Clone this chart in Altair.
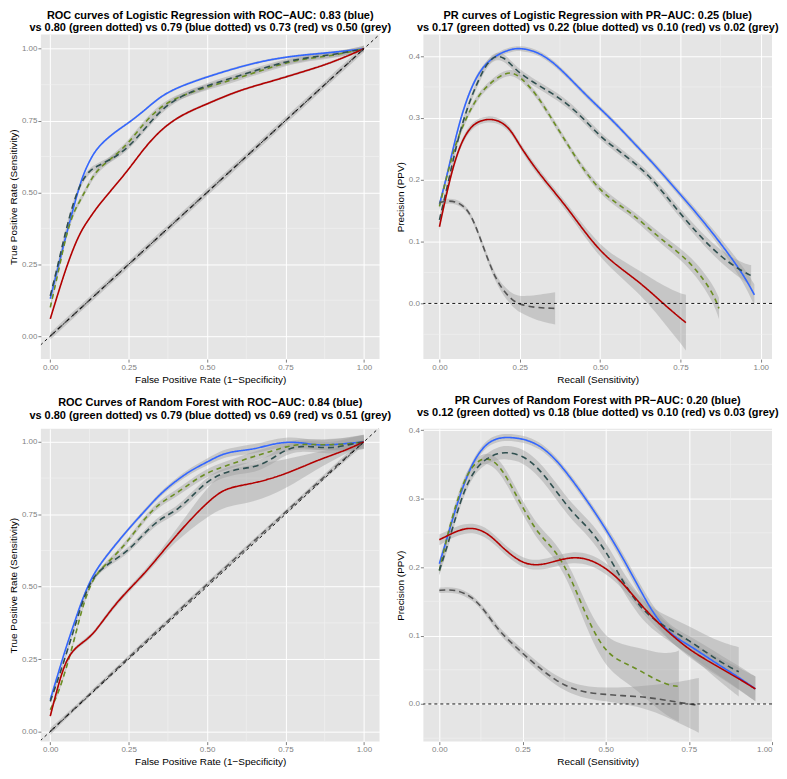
import altair as alt
import pandas as pd

FONT = "Liberation Sans"
NAMES = ["blue", "green dotted", "blue dotted", "red", "grey"]
COLORS = ["#3366FF", "#6B8E23", "#2F4F4F", "#B30000", "#555555"]
DASHES = [[1, 0], [5, 4], [6, 4], [1, 0], [6, 4]]

# ---------------- Top-left: ROC, Logistic Regression ----------------
TL_X = [0, 0.025, 0.05, 0.075, 0.1, 0.125, 0.15, 0.2, 0.25, 0.3, 0.35, 0.4, 0.45, 0.5, 0.6, 0.7, 0.8, 0.9, 1.0]
TL_BLUE = [0.13, 0.24, 0.35, 0.45, 0.55, 0.61, 0.657, 0.706, 0.742, 0.785, 0.833, 0.862, 0.883, 0.902, 0.936, 0.963, 0.978, 0.987, 1.0]
TL_GREEN = [0.10, 0.22, 0.35, 0.435, 0.48, 0.535, 0.58, 0.622, 0.672, 0.743, 0.797, 0.828, 0.848, 0.867, 0.898, 0.935, 0.965, 0.975, 1.0]
TL_DARK = [0.14, 0.25, 0.37, 0.47, 0.54, 0.576, 0.592, 0.618, 0.657, 0.72, 0.783, 0.825, 0.85, 0.872, 0.905, 0.94, 0.968, 0.978, 1.0]
TL_RED = [0.06, 0.15, 0.235, 0.31, 0.37, 0.41, 0.45, 0.515, 0.58, 0.655, 0.715, 0.757, 0.785, 0.808, 0.855, 0.885, 0.918, 0.952, 1.0]
TL_GREY = [0, 0.025, 0.05, 0.075, 0.1, 0.125, 0.15, 0.2, 0.25, 0.3, 0.35, 0.4, 0.45, 0.5, 0.6, 0.7, 0.8, 0.9, 1.0]
TL_SE = {"blue": 0.004, "green dotted": 0.01, "blue dotted": 0.01, "red": 0.004, "grey": 0.012}

# ---------------- Top-right: PR, Logistic Regression ----------------
TR_X = [0, 0.025, 0.05, 0.075, 0.1, 0.125, 0.15, 0.175, 0.2, 0.225, 0.25, 0.3, 0.35, 0.4, 0.45, 0.5, 0.55, 0.6, 0.65, 0.7, 0.75, 0.8, 0.85, 0.9, 0.95, 0.98]
TR_BLUE = [0.16, 0.21, 0.268, 0.315, 0.35, 0.375, 0.39, 0.40, 0.407, 0.411, 0.413, 0.408, 0.392, 0.367, 0.34, 0.315, 0.29, 0.262, 0.235, 0.206, 0.176, 0.146, 0.114, 0.08, 0.043, 0.014]
TR_BLUE_SE = [0.006, 0.005, 0.004, 0.004, 0.004, 0.004, 0.004, 0.004, 0.004, 0.004, 0.004, 0.004, 0.004, 0.004, 0.004, 0.004, 0.004, 0.004, 0.004, 0.005, 0.005, 0.006, 0.007, 0.009, 0.013, 0.017]
TR_DARK_X = [0, 0.025, 0.05, 0.075, 0.1, 0.125, 0.15, 0.175, 0.2, 0.225, 0.25, 0.3, 0.35, 0.4, 0.45, 0.5, 0.55, 0.6, 0.65, 0.7, 0.75, 0.8, 0.85, 0.9, 0.95, 0.97]
TR_DARK = [0.135, 0.19, 0.25, 0.298, 0.335, 0.365, 0.39, 0.401, 0.398, 0.385, 0.372, 0.355, 0.34, 0.322, 0.298, 0.27, 0.25, 0.23, 0.208, 0.177, 0.145, 0.115, 0.088, 0.066, 0.05, 0.045]
TR_DARK_SE = [0.007, 0.006, 0.006, 0.006, 0.006, 0.006, 0.006, 0.006, 0.006, 0.006, 0.006, 0.006, 0.006, 0.006, 0.006, 0.006, 0.006, 0.006, 0.006, 0.007, 0.007, 0.008, 0.009, 0.011, 0.014, 0.017]
TR_GREEN_X = [0, 0.025, 0.05, 0.075, 0.1, 0.125, 0.15, 0.175, 0.2, 0.225, 0.25, 0.3, 0.35, 0.4, 0.45, 0.5, 0.55, 0.6, 0.65, 0.7, 0.75, 0.8, 0.85, 0.87]
TR_GREEN = [0.157, 0.21, 0.258, 0.29, 0.317, 0.338, 0.352, 0.363, 0.371, 0.374, 0.367, 0.34, 0.298, 0.256, 0.215, 0.183, 0.162, 0.145, 0.122, 0.10, 0.08, 0.055, 0.018, -0.008]
TR_GREEN_SE = [0.007, 0.006, 0.005, 0.005, 0.005, 0.005, 0.005, 0.005, 0.005, 0.005, 0.005, 0.005, 0.005, 0.005, 0.005, 0.006, 0.006, 0.006, 0.007, 0.008, 0.009, 0.011, 0.014, 0.017]
TR_RED_X = [0, 0.025, 0.05, 0.075, 0.1, 0.125, 0.15, 0.175, 0.2, 0.225, 0.25, 0.3, 0.35, 0.4, 0.45, 0.5, 0.55, 0.6, 0.65, 0.7, 0.75, 0.767]
TR_RED = [0.124, 0.185, 0.235, 0.268, 0.287, 0.295, 0.298, 0.297, 0.291, 0.278, 0.255, 0.217, 0.185, 0.153, 0.117, 0.085, 0.062, 0.043, 0.022, -0.002, -0.024, -0.031]
TR_RED_SE = [0.006, 0.005, 0.005, 0.005, 0.005, 0.005, 0.005, 0.005, 0.005, 0.005, 0.005, 0.006, 0.006, 0.007, 0.008, 0.01, 0.013, 0.017, 0.022, 0.03, 0.04, 0.045]
TR_GREY_X = [0, 0.025, 0.05, 0.075, 0.1, 0.125, 0.15, 0.175, 0.2, 0.225, 0.25, 0.3, 0.36]
TR_GREY = [0.163, 0.166, 0.165, 0.158, 0.142, 0.108, 0.072, 0.04, 0.02, 0.006, -0.002, -0.007, -0.008]
TR_GREY_SE = [0.004, 0.004, 0.004, 0.004, 0.004, 0.005, 0.005, 0.006, 0.008, 0.01, 0.013, 0.02, 0.026]

# ---------------- Bottom-left: ROC, Random Forest ----------------
BL_X = [0, 0.025, 0.05, 0.075, 0.1, 0.125, 0.15, 0.2, 0.25, 0.3, 0.35, 0.4, 0.45, 0.5, 0.55, 0.6, 0.65, 0.7, 0.75, 0.8, 0.85, 0.9, 0.95, 1.0]
BL_BLUE = [0.11, 0.2, 0.29, 0.37, 0.45, 0.515, 0.565, 0.635, 0.70, 0.76, 0.82, 0.865, 0.903, 0.93, 0.96, 0.969, 0.975, 0.99, 1.0, 0.998, 0.988, 0.99, 0.995, 1.0]
BL_GREEN = [0.075, 0.13, 0.215, 0.31, 0.42, 0.50, 0.55, 0.60, 0.66, 0.735, 0.79, 0.82, 0.86, 0.894, 0.914, 0.932, 0.95, 0.966, 0.983, 0.993, 0.99, 0.99, 0.993, 1.0]
BL_DARK = [0.104, 0.18, 0.265, 0.35, 0.44, 0.51, 0.55, 0.59, 0.625, 0.685, 0.735, 0.76, 0.81, 0.865, 0.892, 0.907, 0.912, 0.935, 0.975, 0.986, 0.982, 0.978, 0.99, 1.0]
BL_RED = [0.053, 0.16, 0.245, 0.283, 0.305, 0.325, 0.355, 0.43, 0.49, 0.545, 0.61, 0.675, 0.735, 0.79, 0.835, 0.848, 0.858, 0.872, 0.89, 0.912, 0.935, 0.955, 0.975, 1.0]
BL_GREY = [0, 0.026, 0.051, 0.077, 0.102, 0.128, 0.153, 0.204, 0.255, 0.306, 0.356, 0.407, 0.458, 0.508, 0.558, 0.608, 0.658, 0.708, 0.757, 0.807, 0.856, 0.905, 0.953, 1.0]
BL_BLUE_SE = [0.008, 0.006, 0.006, 0.006, 0.006, 0.006, 0.006, 0.006, 0.006, 0.007, 0.008, 0.009, 0.01, 0.012, 0.014, 0.015, 0.016, 0.016, 0.016, 0.016, 0.017, 0.018, 0.02, 0.022]
BL_GREEN_SE = [0.008, 0.007, 0.007, 0.007, 0.007, 0.007, 0.008, 0.008, 0.009, 0.01, 0.011, 0.012, 0.013, 0.014, 0.015, 0.016, 0.016, 0.016, 0.016, 0.017, 0.018, 0.02, 0.022, 0.025]
BL_DARK_SE = [0.008, 0.007, 0.007, 0.007, 0.007, 0.007, 0.008, 0.009, 0.01, 0.011, 0.012, 0.013, 0.014, 0.015, 0.016, 0.017, 0.018, 0.018, 0.018, 0.018, 0.019, 0.02, 0.022, 0.025]
BL_RED_SE = [0.008, 0.007, 0.007, 0.007, 0.007, 0.007, 0.007, 0.008, 0.009, 0.01, 0.012, 0.02, 0.035, 0.05, 0.062, 0.065, 0.063, 0.058, 0.05, 0.04, 0.03, 0.02, 0.012, 0.008]
BL_GREY_SE = [0.012, 0.01, 0.009, 0.008, 0.008, 0.008, 0.008, 0.008, 0.008, 0.008, 0.008, 0.008, 0.008, 0.008, 0.008, 0.008, 0.008, 0.008, 0.008, 0.008, 0.009, 0.01, 0.011, 0.012]

# ---------------- Bottom-right: PR, Random Forest ----------------
BR_X = [0, 0.025, 0.05, 0.075, 0.1, 0.125, 0.15, 0.175, 0.2, 0.25, 0.3, 0.35, 0.4, 0.45, 0.5, 0.55, 0.6, 0.65, 0.7, 0.75, 0.8, 0.85, 0.9, 0.95]
BR_BLUE = [0.205, 0.245, 0.287, 0.323, 0.352, 0.371, 0.383, 0.388, 0.39, 0.388, 0.379, 0.358, 0.327, 0.293, 0.256, 0.215, 0.17, 0.126, 0.1, 0.086, 0.07, 0.054, 0.039, 0.022]
BR_BLUE_SE = [0.006, 0.005, 0.005, 0.005, 0.005, 0.005, 0.005, 0.005, 0.005, 0.005, 0.005, 0.005, 0.005, 0.005, 0.006, 0.007, 0.008, 0.01, 0.012, 0.014, 0.015, 0.016, 0.017, 0.018]
BR_RED = [0.24, 0.246, 0.252, 0.256, 0.257, 0.254, 0.247, 0.236, 0.224, 0.205, 0.202, 0.209, 0.215, 0.212, 0.199, 0.178, 0.148, 0.122, 0.1, 0.08, 0.065, 0.051, 0.037, 0.022]
BR_RED_SE = [0.008, 0.007, 0.007, 0.007, 0.007, 0.007, 0.007, 0.007, 0.007, 0.007, 0.007, 0.008, 0.008, 0.008, 0.008, 0.008, 0.009, 0.01, 0.011, 0.012, 0.013, 0.014, 0.016, 0.018]
BR_DARK_X = [0, 0.025, 0.05, 0.075, 0.1, 0.125, 0.15, 0.175, 0.2, 0.25, 0.3, 0.35, 0.4, 0.45, 0.5, 0.55, 0.6, 0.65, 0.7, 0.75, 0.8, 0.85, 0.9]
BR_DARK = [0.195, 0.232, 0.275, 0.312, 0.337, 0.352, 0.361, 0.366, 0.368, 0.364, 0.344, 0.312, 0.279, 0.257, 0.224, 0.18, 0.143, 0.121, 0.107, 0.093, 0.076, 0.06, 0.047]
BR_DARK_SE = [0.007, 0.006, 0.006, 0.006, 0.006, 0.007, 0.008, 0.009, 0.01, 0.01, 0.011, 0.012, 0.012, 0.012, 0.013, 0.014, 0.015, 0.016, 0.018, 0.021, 0.025, 0.03, 0.036]
BR_GREEN_X = [0, 0.025, 0.05, 0.075, 0.1, 0.125, 0.15, 0.175, 0.2, 0.25, 0.3, 0.35, 0.4, 0.45, 0.5, 0.55, 0.6, 0.65, 0.7, 0.72]
BR_GREEN = [0.195, 0.248, 0.292, 0.327, 0.348, 0.358, 0.359, 0.35, 0.334, 0.287, 0.246, 0.225, 0.18, 0.118, 0.075, 0.061, 0.05, 0.035, 0.026, 0.026]
BR_GREEN_SE = [0.007, 0.006, 0.006, 0.006, 0.006, 0.007, 0.008, 0.009, 0.01, 0.01, 0.011, 0.012, 0.014, 0.017, 0.021, 0.026, 0.032, 0.04, 0.048, 0.052]
BR_GREY_X = [0, 0.025, 0.05, 0.075, 0.1, 0.125, 0.15, 0.175, 0.2, 0.25, 0.3, 0.35, 0.4, 0.45, 0.5, 0.55, 0.6, 0.65, 0.7, 0.75, 0.78]
BR_GREY = [0.166, 0.167, 0.166, 0.162, 0.155, 0.143, 0.127, 0.11, 0.097, 0.074, 0.053, 0.034, 0.022, 0.016, 0.014, 0.012, 0.011, 0.008, 0.004, 0.0, -0.002]
BR_GREY_SE = [0.004, 0.004, 0.004, 0.004, 0.004, 0.004, 0.005, 0.005, 0.005, 0.006, 0.006, 0.007, 0.008, 0.009, 0.01, 0.012, 0.015, 0.02, 0.027, 0.035, 0.04]

# ---------------- axis ticks / labels ----------------
ROC_TICKS = [0, 0.25, 0.5, 0.75, 1.0]
ROC_MINOR = [0.125, 0.375, 0.625, 0.875]
PR_YTICKS = [0, 0.1, 0.2, 0.3, 0.4]
PR_YMINOR = [-0.05, 0.05, 0.15, 0.25, 0.35]

TITLES = {
    "tl": ["ROC curves of Logistic Regression with ROC\u2212AUC: 0.83 (blue)",
           "vs 0.80 (green dotted) vs 0.79 (blue dotted) vs 0.73 (red) vs 0.50 (grey)"],
    "tr": ["PR curves of Logistic Regression with PR\u2212AUC: 0.25 (blue)",
           "vs 0.17 (green dotted) vs 0.22 (blue dotted) vs 0.10 (red) vs 0.02 (grey)"],
    "bl": ["ROC Curves of Random Forest with ROC\u2212AUC: 0.84 (blue)",
           "vs 0.80 (green dotted) vs 0.79 (blue dotted) vs 0.69 (red) vs 0.51 (grey)"],
    "br": ["PR Curves of Random Forest with PR\u2212AUC: 0.20 (blue)",
           "vs 0.12 (green dotted) vs 0.18 (blue dotted) vs 0.10 (red) vs 0.03 (grey)"],
}
ROC_XT = "False Positive Rate (1\u2212Specificity)"
ROC_YT = "True Positive Rate (Sensitivity)"
PR_XT = "Recall (Sensitivity)"
PR_YT = "Precision (PPV)"


def panel_df(curves):
    rows = []
    for name, xs, ys, ses in curves:
        if not isinstance(ses, list):
            ses = [ses] * len(xs)
        for x, y, s in zip(xs, ys, ses):
            rows.append({"curve": name, "x": x, "y": y, "lo": y - s, "hi": y + s})
    return pd.DataFrame(rows)


def make_panel(df, title, xdom, ydom, xticks, yticks, xfmt, yfmt, xminor, yminor,
               xtitle, ytitle, roc, w, h, toff):
    def xenc(f):
        return alt.X(f"{f}:Q", scale=alt.Scale(domain=xdom, nice=False, zero=False),
                     axis=alt.Axis(values=xticks, format=xfmt, title=xtitle))

    def yenc(f):
        return alt.Y(f"{f}:Q", scale=alt.Scale(domain=ydom, nice=False, zero=False),
                     axis=alt.Axis(values=yticks, format=yfmt, title=ytitle))

    minx = alt.Chart(pd.DataFrame({"mx": xminor})).mark_rule(
        color="#F2F2F2", strokeWidth=0.6).encode(x=xenc("mx"))
    miny = alt.Chart(pd.DataFrame({"my": yminor})).mark_rule(
        color="#F2F2F2", strokeWidth=0.6).encode(y=yenc("my"))
    bands = alt.Chart(df).mark_area(
        clip=True, color="#999999", opacity=0.4, interpolate="basis"
    ).encode(x=xenc("x"), y=yenc("lo"), y2=alt.Y2("hi:Q"), detail="curve:N")
    if roc:
        ref = alt.Chart(pd.DataFrame({"rx": [-0.2, 1.2], "ry": [-0.2, 1.2]})).mark_line(
            clip=True, color="black", strokeDash=[3, 3], strokeWidth=0.9
        ).encode(x=xenc("rx"), y=yenc("ry"))
    else:
        ref = alt.Chart(pd.DataFrame({"ry": [0.0]})).mark_rule(
            color="black", strokeDash=[3, 3], strokeWidth=0.9
        ).encode(y=yenc("ry"))
    lines = alt.Chart(df).mark_line(
        clip=True, strokeWidth=1.6, interpolate="basis"
    ).encode(
        x=xenc("x"), y=yenc("y"),
        color=alt.Color("curve:N", scale=alt.Scale(domain=NAMES, range=COLORS), legend=None),
        strokeDash=alt.StrokeDash("curve:N", scale=alt.Scale(domain=NAMES, range=DASHES), legend=None),
    )
    return alt.layer(minx, miny, bands, lines, ref).properties(
        width=w, height=h,
        title=alt.TitleParams(text=title, font=FONT, fontSize=11, fontWeight="bold",
                              anchor="middle", frame="group", offset=toff,
                              lineHeight=12.5, color="black"),
    )


tl_df = panel_df([
    ("blue", TL_X, TL_BLUE, TL_SE["blue"]),
    ("green dotted", TL_X, TL_GREEN, TL_SE["green dotted"]),
    ("blue dotted", TL_X, TL_DARK, TL_SE["blue dotted"]),
    ("red", TL_X, TL_RED, TL_SE["red"]),
    ("grey", TL_X, TL_GREY, TL_SE["grey"]),
])
tr_df = panel_df([
    ("blue", TR_X, TR_BLUE, TR_BLUE_SE),
    ("green dotted", TR_GREEN_X, TR_GREEN, TR_GREEN_SE),
    ("blue dotted", TR_DARK_X, TR_DARK, TR_DARK_SE),
    ("red", TR_RED_X, TR_RED, TR_RED_SE),
    ("grey", TR_GREY_X, TR_GREY, TR_GREY_SE),
])
bl_df = panel_df([
    ("blue", BL_X, BL_BLUE, BL_BLUE_SE),
    ("green dotted", BL_X, BL_GREEN, BL_GREEN_SE),
    ("blue dotted", BL_X, BL_DARK, BL_DARK_SE),
    ("red", BL_X, BL_RED, BL_RED_SE),
    ("grey", BL_X, BL_GREY, BL_GREY_SE),
])
br_df = panel_df([
    ("blue", BR_X, BR_BLUE, BR_BLUE_SE),
    ("green dotted", BR_GREEN_X, BR_GREEN, BR_GREEN_SE),
    ("blue dotted", BR_DARK_X, BR_DARK, BR_DARK_SE),
    ("red", BR_X, BR_RED, BR_RED_SE),
    ("grey", BR_GREY_X, BR_GREY, BR_GREY_SE),
])

tl = make_panel(tl_df, TITLES["tl"], [-0.03, 1.05], [-0.08, 1.05], ROC_TICKS, ROC_TICKS, ".2f", ".2f",
                ROC_MINOR, ROC_MINOR, ROC_XT, ROC_YT, True, 340, 326, 1)
tr = make_panel(tr_df, TITLES["tr"], [-0.05, 1.035], [-0.09, 0.435], ROC_TICKS, PR_YTICKS, ".2f", ".1f",
                ROC_MINOR, PR_YMINOR, PR_XT, PR_YT, False, 350, 326, 1)
bl = make_panel(bl_df, TITLES["bl"], [-0.03, 1.05], [-0.035, 1.045], ROC_TICKS, ROC_TICKS, ".2f", ".2f",
                ROC_MINOR, ROC_MINOR, ROC_XT, ROC_YT, True, 340, 314, 8)
br = make_panel(br_df, TITLES["br"], [-0.048, 1.0], [-0.055, 0.402], ROC_TICKS, PR_YTICKS, ".2f", ".1f",
                ROC_MINOR, PR_YMINOR, PR_XT, PR_YT, False, 350, 314, 8)

chart = alt.concat(
    tl, tr, bl, br, columns=2, spacing={"row": 70, "column": 44}, bounds="flush"
).properties(padding=0).configure_view(
    stroke=None, fill="#E5E5E5"
).configure_axis(
    labelFont=FONT, labelFontSize=8, labelColor="#7F7F7F", tickColor="#7F7F7F",
    tickSize=3, labelPadding=1, domain=False, gridColor="white", gridWidth=1,
    titleFont=FONT, titleFontSize=10, titleFontWeight="normal", titleColor="black",
    titlePadding=3,
)

chart.save("out.html", embed_options={"renderer": "svg", "actions": False})
